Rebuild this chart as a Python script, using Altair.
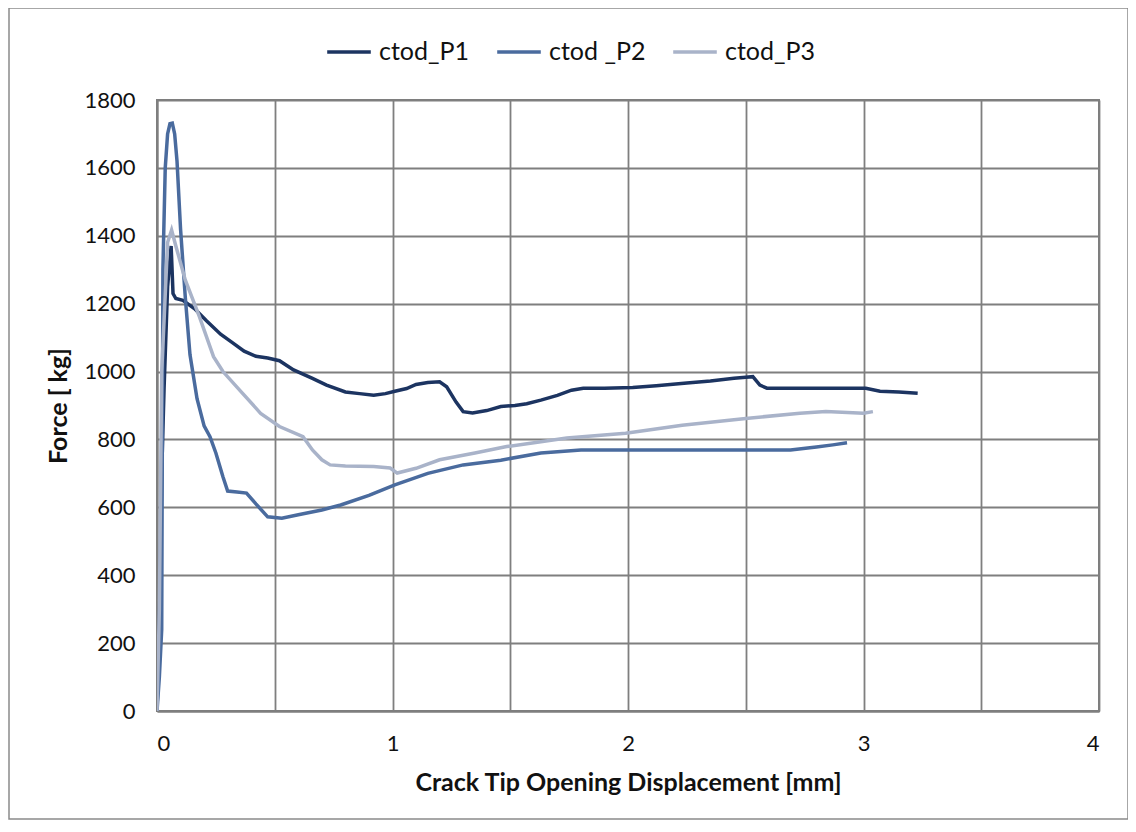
import altair as alt
import pandas as pd

series_names = ["ctod_P1", "ctod _P2", "ctod_P3"]
series_colors = ["#1c3461", "#4a6b9e", "#a9b3c9"]

x_p1 = [0.0, 0.01, 0.02, 0.03, 0.045, 0.06, 0.068, 0.08, 0.11, 0.16, 0.21, 0.27, 0.32, 0.37, 0.42, 0.47, 0.52, 0.58, 0.66, 0.72, 0.80, 0.86, 0.92, 0.97, 1.01, 1.06, 1.10, 1.15, 1.20, 1.23, 1.27, 1.30, 1.34, 1.40, 1.46, 1.52, 1.57, 1.63, 1.70, 1.76, 1.81, 1.90, 2.02, 2.12, 2.25, 2.35, 2.45, 2.50, 2.53, 2.56, 2.59, 2.70, 2.85, 3.01, 3.07, 3.15, 3.23]
y_p1 = [0, 250, 700, 950, 1250, 1370, 1230, 1215, 1210, 1185, 1150, 1110, 1085, 1060, 1045, 1040, 1032, 1005, 980, 960, 940, 935, 930, 935, 942, 950, 962, 968, 970, 955, 910, 882, 878, 885, 897, 900, 905, 916, 930, 945, 951, 951, 953, 958, 966, 972, 980, 983, 985, 960, 951, 951, 951, 951, 942, 940, 936]

x_p2 = [0.0, 0.01, 0.02, 0.025, 0.035, 0.045, 0.055, 0.065, 0.075, 0.085, 0.10, 0.12, 0.14, 0.17, 0.20, 0.225, 0.25, 0.28, 0.30, 0.34, 0.38, 0.42, 0.47, 0.53, 0.60, 0.70, 0.78, 0.90, 1.01, 1.15, 1.30, 1.46, 1.63, 1.80, 2.00, 2.30, 2.60, 2.69, 2.80, 2.87, 2.93]
y_p2 = [0, 100, 240, 1300, 1600, 1700, 1730, 1732, 1700, 1620, 1420, 1220, 1050, 920, 840, 808, 760, 690, 648, 645, 642, 610, 572, 568, 578, 592, 607, 635, 666, 700, 725, 739, 760, 769, 769, 769, 769, 769, 778, 784, 790]

x_p3 = [0.0, 0.01, 0.02, 0.03, 0.045, 0.062, 0.08, 0.12, 0.18, 0.24, 0.28, 0.35, 0.44, 0.52, 0.62, 0.66, 0.70, 0.735, 0.80, 0.92, 0.99, 1.02, 1.10, 1.20, 1.35, 1.485, 1.63, 1.74, 1.99, 2.23, 2.50, 2.73, 2.84, 3.00, 3.04]
y_p3 = [0, 300, 1000, 1150, 1380, 1417, 1370, 1270, 1162, 1044, 1000, 946, 877, 838, 808, 769, 740, 725, 722, 720, 716, 701, 715, 740, 760, 779, 793, 804, 818, 842, 862, 877, 882, 877, 882]

x_grid = [0, 0.5, 1, 1.5, 2, 2.5, 3, 3.5, 4]
y_ticks = list(range(0, 1801, 200))

rows = []
for name, xs, ys in zip(series_names, [x_p1, x_p2, x_p3], [y_p1, y_p2, y_p3]):
    for i, (xv, yv) in enumerate(zip(xs, ys)):
        rows.append({"series": name, "x": xv, "y": yv, "order": i})
df = pd.DataFrame(rows)

W, H = 942, 611
font = "Lato"

lines = alt.Chart(df).mark_line(strokeWidth=3.5, clip=True).encode(
    x=alt.X("x:Q", scale=alt.Scale(domain=[0, 4], nice=False),
            axis=alt.Axis(values=x_grid,
                          labelExpr="datum.value % 1 == 0 ? format(datum.value, 'd') : ''",
                          title="Crack Tip Opening Displacement [mm]",
                          ticks=False, labelPadding=22, titlePadding=16,
                          gridColor="#7f7f7f", gridWidth=1.8,
                          domainColor="#7f7f7f", domainWidth=2,
                          labelFontSize=22, titleFontSize=25,
                          labelFont=font, titleFont=font, titleFontWeight="bold",
                          labelColor="#111111", titleColor="#111111")),
    y=alt.Y("y:Q", scale=alt.Scale(domain=[0, 1800], nice=False),
            axis=alt.Axis(values=y_ticks, format="d",
                          title="Force [ kg]", ticks=False, labelPadding=22, titlePadding=12,
                          gridColor="#7f7f7f", gridWidth=1.8,
                          domainColor="#7f7f7f", domainWidth=2,
                          labelFontSize=22, titleFontSize=25,
                          labelFont=font, titleFont=font, titleFontWeight="bold",
                          labelColor="#111111", titleColor="#111111")),
    color=alt.Color("series:N", scale=alt.Scale(domain=series_names, range=series_colors),
                    legend=alt.Legend(title=None, orient="none", direction="horizontal",
                                      legendX=168, legendY=-72, symbolType="stroke",
                                      symbolSize=1900, symbolStrokeWidth=3.5,
                                      labelFontSize=25, labelFont=font, labelColor="#111111",
                                      columnPadding=20, labelOffset=6)),
    order="order:Q",
)

border = alt.Chart(pd.DataFrame({"a": [0]})).mark_rect(
    fill=None, stroke="#8a8a8a", strokeWidth=1.5, clip=False
).encode(
    x=alt.value(-148), x2=alt.value(W + 29),
    y=alt.value(-92), y2=alt.value(H + 108),
)

chart = alt.layer(border, lines).properties(
    width=W, height=H,
    autosize=alt.AutoSizeParams(type="none"),
    padding={"left": 149, "top": 92, "right": 29, "bottom": 113},
    background="white",
).configure_view(stroke="#7f7f7f", strokeWidth=2)

chart.save("out.html", embed_options={"renderer": "svg", "actions": False})
